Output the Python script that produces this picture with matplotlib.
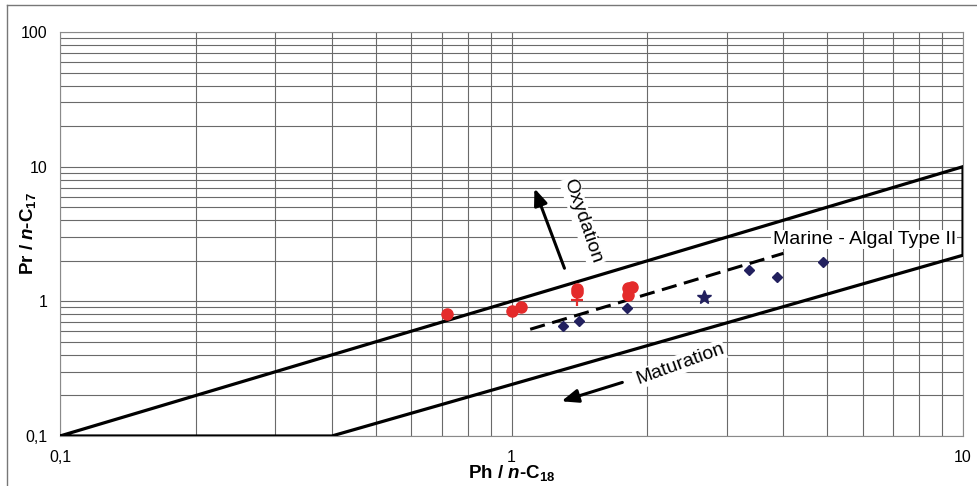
#!/usr/bin/env python3

import matplotlib
matplotlib.use("Agg")
import matplotlib.pyplot as plt
from matplotlib.lines import Line2D
from matplotlib.ticker import FixedLocator, FixedFormatter, LogLocator, NullFormatter


# envelope of the marine / algal type II field
FIELD_X = [0.1, 10, 10, 0.4, 0.1]
FIELD_Y = [0.1, 10, 2.2, 0.1, 0.1]
TREND_X = [1.1, 4.0]
TREND_Y = [0.62, 2.27]

# samples
RED_X = [0.72, 1.0, 1.05, 1.40, 1.40, 1.81, 1.85, 1.81]
RED_Y = [0.80, 0.85, 0.90, 1.23, 1.17, 1.25, 1.27, 1.12]
CROSS_X = [1.40]
CROSS_Y = [1.03]
DIAMOND_X = [1.30, 1.41, 1.80, 3.35, 3.88, 4.89]
DIAMOND_Y = [0.66, 0.72, 0.89, 1.70, 1.51, 1.95]
STAR_X = [2.67]
STAR_Y = [1.08]

X_TICKS = [0.1, 1, 10]
X_TICK_LABELS = ["0,1", "1", "10"]
Y_TICKS = [0.1, 1, 10, 100]
Y_TICK_LABELS = ["0,1", "1", "10", "100"]

RED = "#e42b2b"
NAVY = "#22205e"

plt.rcParams["font.family"] = ["Liberation Sans", "DejaVu Sans"]
plt.rcParams["mathtext.fontset"] = "custom"
plt.rcParams["mathtext.rm"] = "Liberation Sans:bold"
plt.rcParams["mathtext.it"] = "Liberation Sans:bold:italic"
plt.rcParams["mathtext.bf"] = "Liberation Sans:bold"

fig = plt.figure(figsize=(9.77, 4.86), dpi=100)
ax = fig.add_axes([0.0614, 0.1029, 0.9243, 0.8313])

ax.set_xscale("log")
ax.set_yscale("log")
ax.set_xlim(0.1, 10)
ax.set_ylim(0.1, 100)

ax.xaxis.set_major_locator(FixedLocator(X_TICKS))
ax.xaxis.set_major_formatter(FixedFormatter(X_TICK_LABELS))
ax.yaxis.set_major_locator(FixedLocator(Y_TICKS))
ax.yaxis.set_major_formatter(FixedFormatter(Y_TICK_LABELS))
for axis in (ax.xaxis, ax.yaxis):
    axis.set_minor_locator(LogLocator(base=10, subs=range(2, 10)))
    axis.set_minor_formatter(NullFormatter())

ax.grid(True, which="both", color="#6a6a6a", linewidth=0.8)
ax.set_axisbelow(True)
ax.tick_params(which="both", length=0, labelsize=11.5)
ax.tick_params(axis="x", pad=10)
ax.tick_params(axis="y", pad=9)
for spine in ax.spines.values():
    spine.set_color("#8a8a8a")
    spine.set_linewidth(0.8)

ax.plot(FIELD_X, FIELD_Y, color="black", linewidth=2.3, solid_joinstyle="miter",
        zorder=3)
ax.plot(TREND_X, TREND_Y, color="black", linewidth=2.2, dashes=(5, 2.5), zorder=3)

ax.plot(RED_X, RED_Y, "o", color=RED, markersize=8, zorder=4)
ax.plot(CROSS_X, CROSS_Y, "+", color=RED, markersize=8, markeredgewidth=1.6, zorder=4)
ax.plot(DIAMOND_X, DIAMOND_Y, "D", color=NAVY, markersize=5.5, zorder=4)
ax.plot(STAR_X, STAR_Y, "*", color=NAVY, markersize=10, zorder=4)

box = dict(facecolor="white", edgecolor="none", pad=1)
ax.text(3.79, 2.88, "Marine - Algal Type II", fontsize=14, ha="left", va="center",
        bbox=box, zorder=2)

arrow_style = dict(arrowstyle="-|>,head_length=1.0,head_width=0.4",
                   color="black", linewidth=2.2, shrinkA=0, shrinkB=0)

# oxydation arrow
ax.annotate("", xy=(1.124, 6.9), xytext=(1.31, 1.76), arrowprops=arrow_style, zorder=5)
ax.text(1.436, 3.93, "Oxydation", fontsize=14, rotation=-71, ha="center", va="center",
        bbox=box, zorder=2)

# maturation arrow
ax.annotate("", xy=(1.29, 0.181), xytext=(1.76, 0.25), arrowprops=arrow_style, zorder=5)
ax.text(2.36, 0.34, "Maturation", fontsize=14, rotation=20, ha="center", va="center",
        bbox=box, zorder=2)

ax.set_xlabel(r"Ph / $\mathit{n}$-C$_{18}$", fontsize=13.5, fontweight="bold")
ax.xaxis.set_label_coords(0.5, -0.068)
ax.set_ylabel(r"Pr / $\mathit{n}$-C$_{17}$", fontsize=13.5, fontweight="bold")
ax.yaxis.set_label_coords(-0.0244, 0.5)

# outer frame of the original figure (left and top only)
fig.add_artist(Line2D([0.0072, 0.0072], [0.0, 0.99], color="#777777", linewidth=1))
fig.add_artist(Line2D([0.0072, 1.0], [0.99, 0.99], color="#777777", linewidth=1))

fig.savefig("out.png", dpi=100)
